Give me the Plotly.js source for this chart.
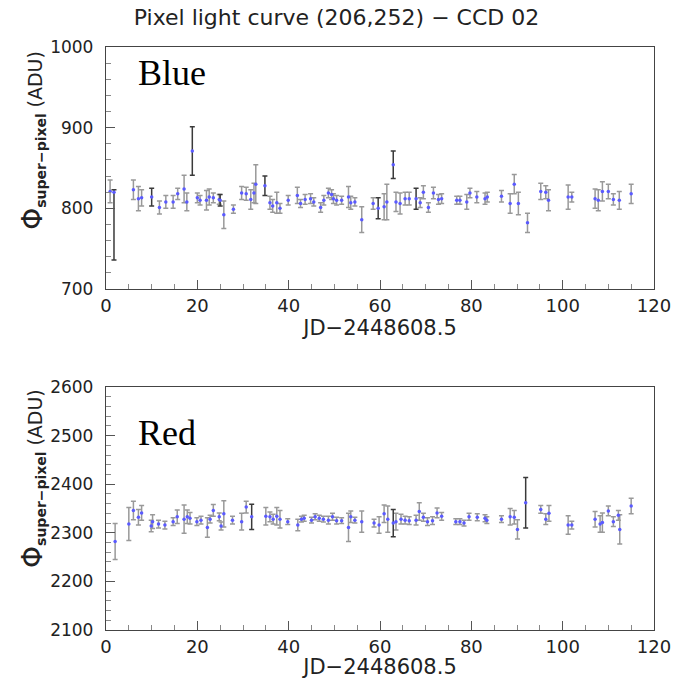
<!DOCTYPE html>
<html>
<head>
<meta charset="utf-8">
<script src="https://cdn.plot.ly/plotly-3.0.1.min.js"></script>
<style>html,body{margin:0;padding:0;background:#fff;}#chart{width:673px;height:679px;}</style>
</head>
<body>
<div id="chart"></div>
<script>
// ---- Blue (top panel) ----
const blueX   = [0.9, 6.0, 7.1, 7.8, 11.7, 13.1, 14.7, 15.7, 17.1, 17.7, 20.0, 20.6, 22.0, 22.6, 23.5, 24.8, 25.8, 27.9, 29.7, 30.7, 31.7, 32.4, 32.8, 35.9, 36.5, 37.4, 38.1, 39.9, 41.9, 42.6, 43.6, 44.8, 45.5, 47.0, 47.7, 48.7, 49.4, 49.8, 50.5, 51.6, 53.1, 53.6, 54.5, 56.0, 58.5, 60.9, 61.5, 63.5, 64.4, 65.5, 66.4, 68.8, 69.5, 70.6, 71.7, 72.8, 73.5, 76.8, 77.5, 79.0, 79.7, 81.2, 83.0, 83.5, 86.6, 88.5, 89.4, 90.3, 92.3, 95.2, 96.3, 96.9, 101.2, 102.0, 107.1, 107.8, 108.7, 110.0, 111.1, 112.4, 115.0];
const blueY   = [821, 823, 812, 813, 801, 808, 808, 818, 824, 808, 813, 810, 810, 814, 813, 811, 792, 799, 819, 818, 811, 819, 830, 807, 803, 807, 800, 810, 816, 806, 811, 812, 808, 801, 810, 819, 817, 812, 810, 810, 814, 807, 808, 786, 806, 802, 808, 808, 806, 812, 812, 807, 820, 801, 819, 811, 812, 810, 810, 808, 819, 814, 812, 814, 815, 806, 830, 806, 782, 821, 820, 810, 814, 814, 812, 810, 821, 821, 811, 810, 818];
const blueErr = [14, 12, 15, 10, 8, 8, 8, 7, 17, 11, 6, 6, 12, 10, 6, 6, 17, 5, 8, 8, 12, 12, 24, 8, 8, 13, 6, 6, 10, 5, 6, 6, 5, 6, 6, 6, 6, 6, 6, 5, 13, 8, 5, 16, 7, 16, 22, 12, 13, 8, 8, 6, 8, 6, 7, 6, 6, 5, 5, 9, 6, 7, 7, 6, 7, 12, 12, 14, 12, 10, 8, 13, 15, 6, 12, 13, 12, 9, 7, 11, 12];
// points drawn with dark error bars
const blueDarkX        = [1.75, 10.0, 18.9, 25.0, 34.8, 59.6, 62.9, 67.9];
const blueDarkY        = [820, 814, 871, 810, 828, 800, 854, 812];
const blueDarkErrUp    = [3, 11, 30, 7, 12, 13, 17, 13];
const blueDarkErrDown  = [84, 11, 30, 7, 12, 13, 17, 13];

// ---- Red (bottom panel) ----
const redX   = [2.0, 5.0, 6.0, 7.1, 7.8, 9.9, 10.2, 11.5, 12.9, 14.7, 15.6, 17.1, 17.8, 18.4, 19.9, 20.8, 22.2, 22.8, 23.5, 24.8, 25.2, 25.8, 27.7, 29.7, 30.7, 35.0, 35.9, 36.6, 37.4, 38.1, 39.8, 42.0, 42.8, 43.4, 45.0, 45.8, 46.7, 47.6, 48.7, 49.6, 50.5, 51.6, 53.1, 53.6, 54.5, 56.0, 58.7, 59.8, 60.9, 61.7, 63.5, 64.6, 65.5, 66.4, 67.9, 68.6, 69.5, 70.4, 71.5, 72.5, 73.5, 76.6, 77.5, 78.4, 79.5, 81.3, 83.0, 83.4, 86.6, 88.5, 89.4, 90.1, 95.2, 96.3, 97.0, 101.2, 102.0, 107.1, 108.2, 108.7, 110.0, 111.1, 112.2, 112.5, 115.0];
const redY   = [2282, 2318, 2346, 2332, 2341, 2314, 2323, 2318, 2316, 2323, 2333, 2328, 2333, 2330, 2323, 2326, 2311, 2328, 2346, 2333, 2314, 2339, 2326, 2323, 2353, 2334, 2333, 2328, 2334, 2328, 2323, 2316, 2328, 2330, 2326, 2333, 2330, 2328, 2326, 2333, 2325, 2325, 2311, 2333, 2326, 2323, 2320, 2316, 2339, 2328, 2323, 2328, 2326, 2325, 2326, 2344, 2332, 2323, 2325, 2341, 2334, 2323, 2323, 2320, 2333, 2332, 2330, 2326, 2328, 2333, 2332, 2307, 2348, 2328, 2340, 2316, 2316, 2328, 2318, 2321, 2345, 2323, 2336, 2307, 2355];
const redErr = [37, 34, 19, 16, 15, 12, 14, 8, 8, 8, 14, 29, 14, 12, 8, 8, 20, 8, 12, 8, 8, 27, 8, 17, 12, 18, 10, 10, 18, 18, 6, 12, 6, 6, 6, 6, 6, 6, 8, 7, 7, 6, 29, 12, 6, 22, 8, 17, 18, 27, 17, 10, 8, 8, 10, 18, 8, 8, 8, 10, 8, 6, 6, 6, 7, 7, 7, 7, 7, 17, 14, 20, 8, 11, 16, 19, 8, 16, 17, 20, 10, 10, 10, 30, 16];
const redDarkX   = [31.9, 62.9, 91.9];
const redDarkY   = [2333, 2320, 2362];
const redDarkErr = [26, 28, 52];

const xTickVals = [0, 20, 40, 60, 80, 100, 120];
const labels = {title: 'Pixel light curve (206,252) \u2212 CCD 02', xTitle: 'JD\u22122448608.5', top: 'Blue', bottom: 'Red'};

const MARK = {color: '#5a5aff', size: 3.5, symbol: 'circle'};
const GRAY = '#999999', DARK = '#3a3a3a';
function trace(x, y, up, down, col, xa, ya) {
  return {x: x, y: y, type: 'scatter', mode: 'markers', xaxis: xa, yaxis: ya,
    marker: MARK, showlegend: false, hoverinfo: 'skip',
    error_y: {type: 'data', symmetric: false, array: up, arrayminus: down, color: col, thickness: 1.5, width: 2.5}};
}
const data = [
  trace(blueX, blueY, blueErr, blueErr, GRAY, 'x', 'y'),
  trace(blueDarkX, blueDarkY, blueDarkErrUp, blueDarkErrDown, DARK, 'x', 'y'),
  trace(redX, redY, redErr, redErr, GRAY, 'x2', 'y2'),
  trace(redDarkX, redDarkY, redDarkErr, redDarkErr, DARK, 'x2', 'y2')
];

const FONT = 'DejaVu Sans, sans-serif';
function xax(anchor, standoff) {
  return {anchor: anchor, range: [0, 120], tickvals: xTickVals, ticks: 'inside', ticklen: 9, tickwidth: 1, tickcolor: '#555',
    minor: {dtick: 5, ticks: 'inside', ticklen: 5, tickcolor: '#888'},
    showgrid: false, zeroline: false, showline: true, linecolor: '#444', linewidth: 1.2, mirror: true,
    tickfont: {family: FONT, size: 18, color: '#222'}, ticklabelstandoff: 0,
    title: {text: labels.xTitle, font: {family: FONT, size: 21, color: '#222'}, standoff: standoff}};
}
function yax(anchor, domain, range) {
  return {anchor: anchor, domain: domain, range: range, dtick: 100, ticks: 'inside', ticklen: 9, tickwidth: 1, tickcolor: '#555',
    minor: {dtick: 20, ticks: 'inside', ticklen: 5, tickcolor: '#888'},
    showgrid: false, zeroline: false, showline: true, linecolor: '#444', linewidth: 1.2, mirror: true,
    tickfont: {family: FONT, size: 17, color: '#222'}, ticklabelstandoff: 8};
}
const ytitle = '<span style="font-size:28px">\u03A6</span><sub><b><span style="font-size:14px">super\u2212pixel</span></b></sub> <span style="font-size:19px">(ADU)</span>';
const layout = {
  width: 673, height: 679, paper_bgcolor: '#fff', plot_bgcolor: '#fff',
  margin: {l: 106, r: 19, t: 47, b: 49},
  title: {text: labels.title, font: {family: FONT, size: 22, color: '#222'}, x: 0.5, xanchor: 'center', y: 0.974, yanchor: 'middle'},
  xaxis: Object.assign(xax('y', 4), {domain: [0, 1]}),
  yaxis: yax('x', [0.5849, 1], [700, 1000]),
  xaxis2: Object.assign(xax('y2', 0), {domain: [0, 1]}),
  yaxis2: yax('x2', [0, 0.4168], [2100, 2600]),
  annotations: [
    {text: labels.top, xref: 'paper', yref: 'paper', x: 0.055, y: 0.955, xanchor: 'left', yanchor: 'middle', showarrow: false,
     font: {family: 'Liberation Serif, serif', size: 36, color: '#000'}},
    {text: labels.bottom, xref: 'paper', yref: 'paper', x: 0.055, y: 0.338, xanchor: 'left', yanchor: 'middle', showarrow: false,
     font: {family: 'Liberation Serif, serif', size: 36, color: '#000'}},
    {text: ytitle, xref: 'paper', yref: 'paper', x: -0.134, y: 0.84, xanchor: 'center', yanchor: 'middle', textangle: -90, showarrow: false,
     font: {family: FONT, size: 18, color: '#222'}},
    {text: ytitle, xref: 'paper', yref: 'paper', x: -0.134, y: 0.26, xanchor: 'center', yanchor: 'middle', textangle: -90, showarrow: false,
     font: {family: FONT, size: 18, color: '#222'}}
  ]
};
Plotly.newPlot('chart', data, layout, {displayModeBar: false, staticPlot: true});
</script>
</body>
</html>
